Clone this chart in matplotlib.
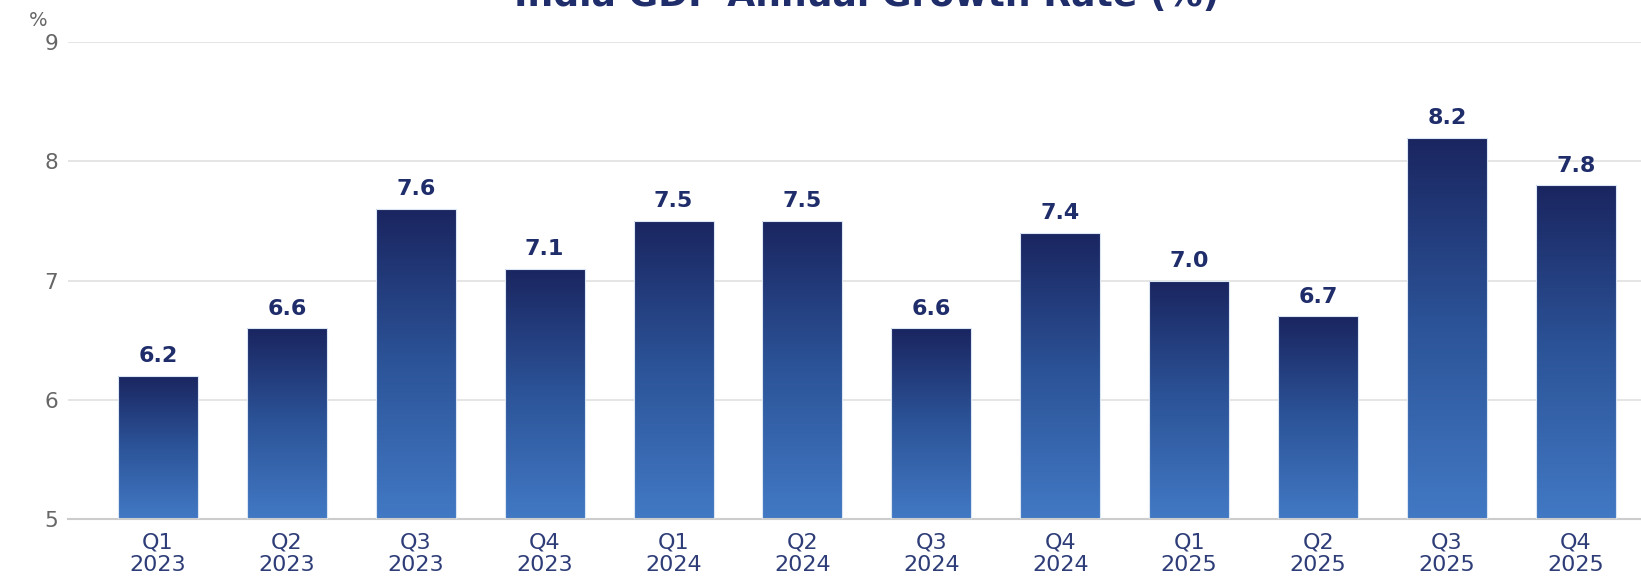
import matplotlib.pyplot as plt
import numpy as np
from matplotlib.colors import LinearSegmentedColormap

plt.rcParams['font.family'] = ['DejaVu Sans']

# data
quarters = ['Q1', 'Q2', 'Q3', 'Q4', 'Q1', 'Q2', 'Q3', 'Q4', 'Q1', 'Q2', 'Q3', 'Q4']
years = ['2023', '2023', '2023', '2023', '2024', '2024', '2024', '2024', '2025', '2025', '2025', '2025']
growth = [6.2, 6.6, 7.6, 7.1, 7.5, 7.5, 6.6, 7.4, 7.0, 6.7, 8.2, 7.8]
yticks = [5, 6, 7, 8, 9]

navy = '#1f2d6b'
grad = LinearSegmentedColormap.from_list('bar', ['#4279c4', '#2c5499', '#1a2560'])

fig = plt.figure(figsize=(16.41, 5.78), dpi=100)
ax = fig.add_axes([0.0414, 0.102, 0.9586, 0.825])

x = np.arange(len(growth))
bars = ax.bar(x, growth, width=0.62, bottom=0, color='none', edgecolor='#dbe6f5', linewidth=0.8, zorder=3)

# gradient fill inside each bar (dark at top, light at bottom)
g = np.linspace(0, 1, 256).reshape(-1, 1)
for b in bars:
    x0, w, h = b.get_x(), b.get_width(), b.get_height()
    im = ax.imshow(g, cmap=grad, aspect='auto', origin='lower',
                   extent=[x0, x0 + w, 5, h], zorder=2)
    im.set_clip_path(b)

for xi, v in zip(x, growth):
    ax.annotate(f'{v:.1f}', (xi, v), xytext=(0, 7), textcoords='offset points',
                ha='center', va='bottom', fontsize=16, fontweight='bold', color=navy)

ax.set_xlim(-0.698, 11.505)
ax.set_ylim(5, 9)
ax.set_yticks(yticks)
ax.set_xticks(x)
ax.set_xticklabels([f'{q}\n{y}' for q, y in zip(quarters, years)], linespacing=1.15)
ax.tick_params(axis='x', length=0, pad=10, labelsize=16, labelcolor='#2e3d78')
ax.tick_params(axis='y', length=0, pad=7, labelsize=15.5, labelcolor='#666666')

ax.grid(axis='y', color='#e3e3e3', linewidth=1.3, zorder=0)
ax.set_axisbelow(True)
for s in ['top', 'right', 'left']:
    ax.spines[s].set_visible(False)
ax.spines['bottom'].set_color('#cccccc')
ax.spines['bottom'].set_linewidth(1.5)

fig.text(0.023, 0.965, '%', fontsize=14, color='#666666', ha='center', va='center')
fig.text(0.528, 0.99, 'India GDP Annual Growth Rate (%)', fontsize=26, fontweight='bold',
         color=navy, ha='center', va='baseline')

fig.savefig('out.png', dpi=100)
